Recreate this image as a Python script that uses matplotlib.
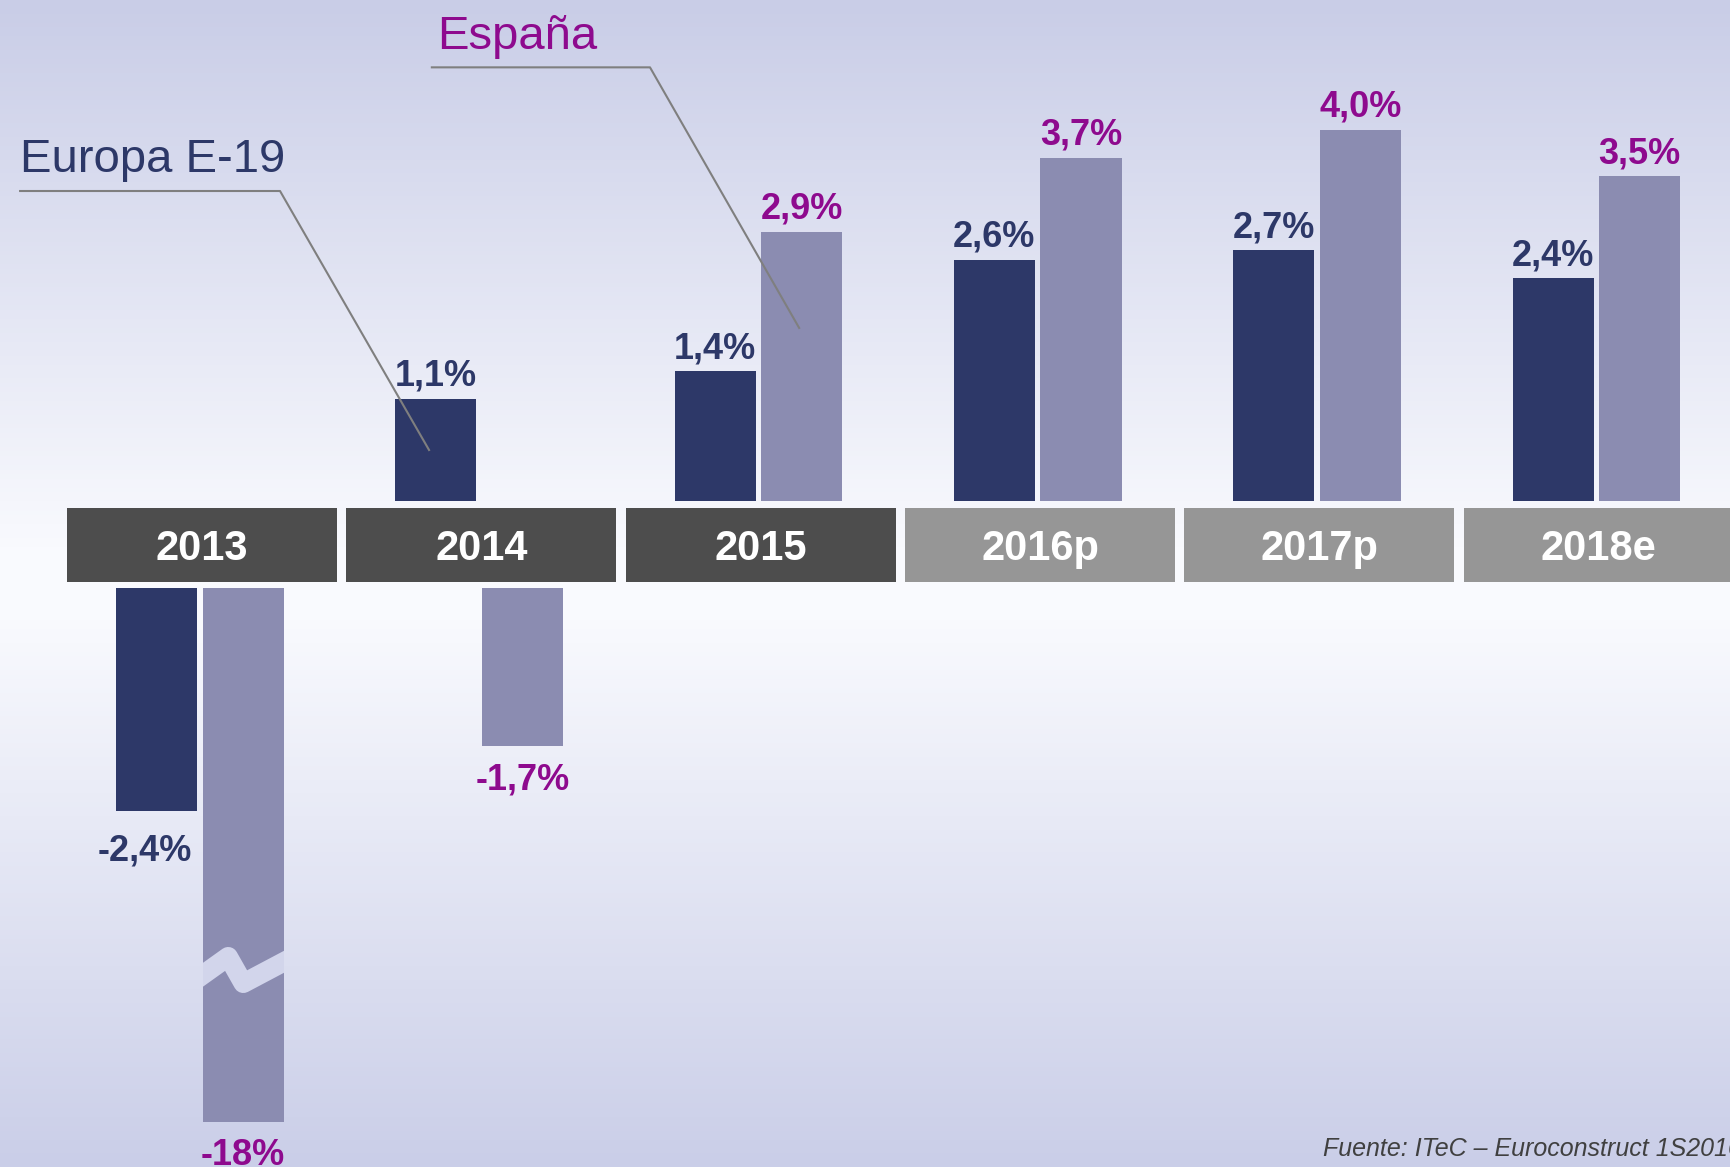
import numpy as np
import matplotlib.pyplot as plt
from matplotlib.colors import LinearSegmentedColormap
from matplotlib.patches import Rectangle

plt.rcParams['font.family'] = ['Liberation Sans', 'DejaVu Sans']

# data
years = ['2013', '2014', '2015', '2016p', '2017p', '2018e']
europa = [-2.4, 1.1, 1.4, 2.6, 2.7, 2.4]
espana = [-18.0, -1.7, 2.9, 3.7, 4.0, 3.5]
europa_labels = ['-2,4%', '1,1%', '1,4%', '2,6%', '2,7%', '2,4%']
espana_labels = ['-18%', '-1,7%', '2,9%', '3,7%', '4,0%', '3,5%']
forecast = [False, False, False, True, True, True]

# colours
c_eu = '#2D3868'
c_es = '#8B8CB1'
c_es_txt = '#8E0A8E'
c_box_real = '#4D4D4D'
c_box_fore = '#969696'

fig = plt.figure(figsize=(17.31, 11.67), dpi=100)
ax = fig.add_axes([0, 0, 1, 1])
ax.set_xlim(-0.723, 5.474)
ax.set_ylim(-7.18, 5.40)
ax.axis('off')

# background gradient: lavender -> white -> lavender
bg = LinearSegmentedColormap.from_list(
    'bg', [(0, '#C9CDE7'), (0.47, '#F9FAFE'), (0.53, '#F9FAFE'), (1, '#CACEE8')])
grad = np.linspace(0, 1, 256).reshape(-1, 1)
ax.imshow(grad, cmap=bg, aspect='auto', extent=(-0.723, 5.474, -7.18, 5.40),
          origin='upper', zorder=0)

x = np.arange(len(years))
w = 0.29
off_eu = -0.163
off_es = 0.147
neg_start = -0.943      # negative bars hang below the year boxes
cut_depth = 5.75        # visual length of the broken -18% bar
lab_up = 0.14
lab_down = 0.47


def bar_geom(v):
    if v >= 0:
        return 0.0, v
    return neg_start, -min(-v, cut_depth)


broken_bar = None
for i in range(len(years)):
    for v, off, col, lab, tcol in [(europa[i], off_eu, c_eu, europa_labels[i], c_eu),
                                   (espana[i], off_es, c_es, espana_labels[i], c_es_txt)]:
        b, h = bar_geom(v)
        bars = ax.bar(x[i] + off, h, width=w, bottom=b, color=col, zorder=2)
        if -v > cut_depth:
            broken_bar = bars[0]
        if v >= 0:
            ty = b + h + lab_up
        else:
            ty = b + h - lab_down
            if v == -2.4:
                ty -= 0.06
        tx = x[i] + off - (0.04 if v == -2.4 else 0)
        ax.text(tx, ty, lab, ha='center', va='baseline', fontsize=26,
                fontweight='bold', color=tcol, zorder=4)

    # year box
    fc = c_box_fore if forecast[i] else c_box_real
    ax.add_patch(Rectangle((x[i] - 0.483, -0.874), 0.966, 0.798, facecolor=fc,
                           edgecolor='none', zorder=2))
    ax.text(x[i], -0.515, years[i], ha='center', va='center', fontsize=30,
            fontweight='bold', color='white', zorder=3)

# axis break on the -18% bar
zx = np.array([-0.03, 0.094, 0.148, 0.33])
zy = np.array([-5.18, -4.913, -5.200, -4.91])
zz, = ax.plot(zx, zy, color='#D2D5EB', lw=14, solid_joinstyle='round',
              solid_capstyle='butt', zorder=3)
if broken_bar is not None:
    zz.set_clip_path(broken_bar)

# series call-outs
ax.plot([-0.651, 0.2795, 0.813], [3.341, 3.341, 0.549], color='#7F7F7F', lw=1.5, zorder=5)
ax.text(-0.651, 3.546, 'Europa E-19', fontsize=34, color=c_eu, ha='left', va='baseline')
ax.plot([0.823, 1.604, 2.138], [4.674, 4.674, 1.865], color='#7F7F7F', lw=1.5, zorder=5)
ax.text(0.842, 4.876, 'España', fontsize=34, color=c_es_txt, ha='left', va='baseline')

ax.text(4.014, -7.061, 'Fuente: ITeC – Euroconstruct 1S2016', fontsize=18,
        style='italic', color='#404040', ha='left', va='baseline')

fig.savefig('out.png', dpi=100)
